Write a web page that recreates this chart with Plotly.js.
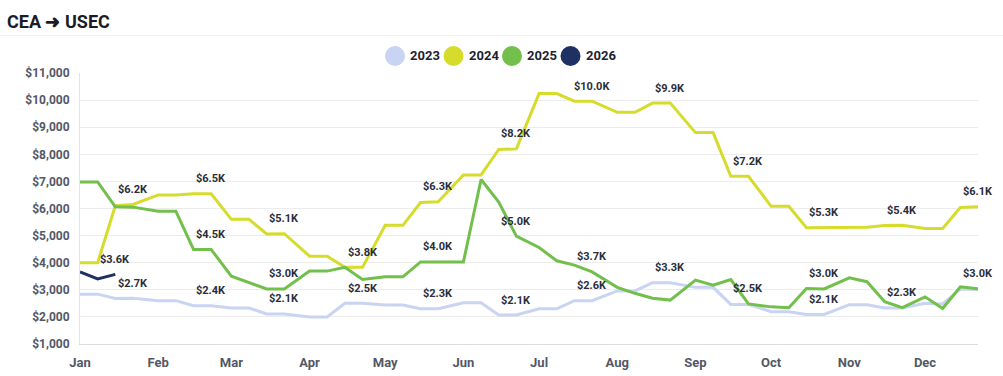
<!DOCTYPE html>
<html>
<head>
<meta charset="utf-8">
<script src="https://cdn.plot.ly/plotly-3.0.1.min.js"></script>
<style>
  html, body { margin: 0; padding: 0; background: #ffffff; }
  #chart { width: 1003px; height: 376px; }
</style>
</head>
<body>
<div id="chart"></div>
<script>
// ---- data ----
const chartTitle = "CEA \u279C USEC";
const seriesNames = ["2023", "2024", "2025", "2026"];
const seriesColors = ["#c8d4f2", "#d6dc2c", "#72bf4c", "#1f3163"];
const monthNums = ["01","02","03","04","05","06","07","08","09","10","11","12"];
const weekDays = ["01","08","15","22"];

const v2023 = [2840,2840,2680,2690, 2600,2600,2410,2410, 2330,2330,2110,2110,
               2000,2000,2500,2500, 2440,2440,2300,2300, 2520,2520,2070,2070,
               2300,2300,2600,2600, 2960,2960,3260,3260, 3090,3090,2460,2460,
               2190,2190,2090,2090, 2450,2450,2330,2330, 2500,2480,3030,3000];
const v2024 = [4000,4000,6100,6150, 6500,6500,6540,6540, 5600,5600,5060,5070,
               4240,4240,3830,3830, 5380,5380,6220,6250, 7240,7240,8180,8200,
               10240,10240,9960,9960, 9550,9550,9890,9890, 8800,8800,7190,7190,
               6080,6080,5290,5290, 5300,5310,5370,5380, 5260,5260,6040,6060];
const v2025 = [6980,6980,6060,6050, 5900,5900,4490,4490, 3500,3260,3030,3030,
               3690,3690,3830,3380, 3480,3480,4030,4030, 4030,7070,6240,4980,
               4560,4070,3910,3660, 3090,2870,2690,2620, 3360,3170,3380,2480,
               2370,2340,3050,3030, 3440,3300,2560,2340, 2740,2310,3110,3040];
const v2026 = [3660, 3400, 3570];

// x grid: 1st, 8th, 15th, 22nd of each month
const xDates = [];
monthNums.forEach(m => weekDays.forEach(d => xDates.push("2024-" + m + "-" + d)));

const allValues = [v2023, v2024, v2025, v2026];

// ---- traces ----
const traces = allValues.map((vals, k) => ({
  type: "scatter",
  mode: "lines",
  name: seriesNames[k],
  x: xDates.slice(0, vals.length),
  y: vals,
  line: { color: seriesColors[k], width: 3 },
  showlegend: false,
  hoverinfo: "skip"
}));

// ---- point labels: every 4th point counted from the series end, hide overlaps ----
const fmtK = v => "$" + (v / 1000).toFixed(1) + "K";
const candidates = {};
allValues.forEach((vals, k) => {
  for (let i = vals.length - 1; i >= 0; i -= 4) {
    const key = xDates[i];
    (candidates[key] = candidates[key] || []).push({ k: k, i: i, v: vals[i] });
  }
});
const annotations = [];
Object.keys(candidates).forEach(key => {
  const list = candidates[key].slice().sort((a, b) => b.v - a.v);
  const shown = [];
  list.forEach(c => {
    if (shown.every(s => Math.abs(s.v - c.v) > 650)) {
      shown.push(c);
      annotations.push({
        x: key, y: c.v, xref: "x", yref: "y",
        text: fmtK(c.v), showarrow: false, yshift: 15,
        font: { family: "Roboto, Arial, sans-serif", size: 11, color: "#2b2e3b", weight: "bold" }
      });
    }
  });
});

// ---- custom legend (large round markers) ----
const L = 80, R = 978, T = 73, B = 344;
const px2x = px => (px - L) / (R - L);
const py2y = py => (B - py) / (B - T);
const shapes = [];
seriesNames.forEach((name, k) => {
  const cx = 395 + k * 58.5, cy = 56;
  shapes.push({
    type: "circle", xref: "paper", yref: "paper",
    xsizemode: "pixel", ysizemode: "pixel",
    xanchor: px2x(cx), yanchor: py2y(cy),
    x0: -10, x1: 10, y0: -10, y1: 10,
    fillcolor: seriesColors[k], line: { width: 0 }
  });
  annotations.push({
    xref: "paper", yref: "paper", x: px2x(cx + 13), y: py2y(cy),
    xanchor: "left", yanchor: "middle", showarrow: false, text: name,
    font: { family: "Roboto, Arial, sans-serif", size: 13, color: "#1f2230", weight: "bold" }
  });
});
// faint separator under the title
shapes.push({
  type: "line", xref: "paper", yref: "paper",
  x0: px2x(0), x1: px2x(1003), y0: py2y(35.5), y1: py2y(35.5),
  line: { color: "#f1f1f1", width: 1 }
});

const tickFont = { family: "Roboto, Arial, sans-serif", size: 12, color: "#535866", weight: "bold" };

const layout = {
  width: 1003, height: 376,
  margin: { l: L, r: 1003 - R, t: T, b: 376 - B, pad: 0 },
  paper_bgcolor: "#ffffff", plot_bgcolor: "#ffffff",
  title: {
    text: chartTitle, xref: "container", yref: "container",
    x: 7 / 1003, xanchor: "left", y: 1 - 22 / 376, yanchor: "middle",
    font: { family: "Roboto, Arial, sans-serif", size: 18, color: "#1a1d29", weight: "bold" }
  },
  showlegend: false,
  xaxis: {
    type: "date",
    range: ["2024-01-01", "2024-12-22"],
    tickformat: "%b", dtick: "M1", tick0: "2024-01-01",
    showgrid: false, zeroline: false,
    showline: true, linecolor: "#dcdcdc", linewidth: 1,
    ticks: "", ticklabelstandoff: 6,
    tickfont: { family: "Roboto, Arial, sans-serif", size: 13, color: "#535866", weight: "bold" },
    fixedrange: true
  },
  yaxis: {
    range: [1000, 11000], dtick: 1000, tick0: 0,
    tickprefix: "$", tickformat: ",d",
    showgrid: true, gridcolor: "#ececec", gridwidth: 1,
    zeroline: false, showline: true, linecolor: "#e3e3e3", linewidth: 1,
    ticks: "", ticklabelstandoff: 7,
    tickfont: tickFont, fixedrange: true
  },
  shapes: shapes,
  annotations: annotations,
  hovermode: false
};

Plotly.newPlot("chart", traces, layout, { displayModeBar: false, staticPlot: true });
</script>
</body>
</html>
